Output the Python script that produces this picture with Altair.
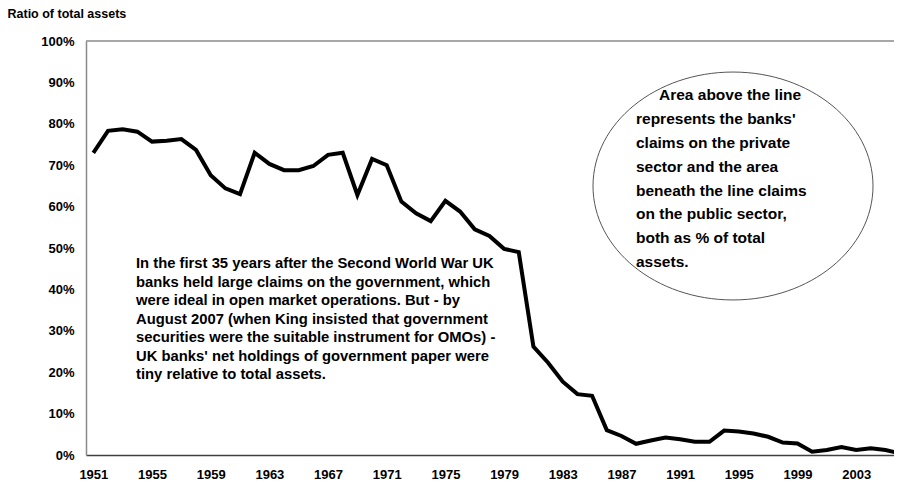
import altair as alt
import pandas as pd

years = list(range(1951, 2007))
ratio = [73.0, 78.3, 78.7, 78.1, 75.7, 75.9, 76.3, 73.7, 67.6, 64.4,
         63.0, 73.0, 70.3, 68.8, 68.8, 69.8, 72.5, 73.0, 62.8, 71.5,
         70.0, 61.2, 58.4, 56.5, 61.4, 58.8, 54.5, 52.9, 49.8, 49.0,
         26.2, 22.3, 17.7, 14.7, 14.3, 6.0, 4.6, 2.7, 3.5, 4.2,
         3.8, 3.2, 3.2, 5.9, 5.7, 5.2, 4.4, 3.0, 2.8, 0.8,
         1.2, 1.9, 1.2, 1.6, 1.2, 0.4]
tick_years = list(range(1951, 2004, 4))
y_ticks = list(range(0, 101, 10))

left_note = [
    "In the first 35 years after the Second World War UK",
    "banks held large claims on the government, which",
    "were ideal in open market operations. But - by",
    "August 2007 (when King insisted that government",
    "securities were the suitable instrument for OMOs) -",
    "UK banks' net holdings of government paper were",
    "tiny relative to total assets.",
]
bubble_first = "Area above the line"
bubble_rest = [
    "represents the banks'",
    "claims on the private",
    "sector and the area",
    "beneath the line claims",
    "on the public sector,",
    "both as % of total",
    "assets.",
]

df = pd.DataFrame({"year": years, "ratio": ratio})
FONT = "Liberation Sans"
W, H = 808, 414

x = alt.X("year:Q",
          scale=alt.Scale(domain=[1950.5, 2005.58], nice=False, zero=False),
          axis=alt.Axis(values=tick_years, format="d", title=None, grid=False,
                        ticks=False, domainColor="#404040", domainWidth=1.5,
                        labelFont=FONT, labelFontWeight="bold", labelFontSize=13,
                        labelColor="black", labelPadding=13, labelFlush=False))
y = alt.Y("ratio:Q",
          scale=alt.Scale(domain=[0, 100], nice=False),
          axis=alt.Axis(values=y_ticks, labelExpr="datum.value + '%'", grid=False,
                        ticks=False, domainColor="#8a8a8a", domainWidth=1.5,
                        labelFont=FONT, labelFontWeight="bold", labelFontSize=13,
                        labelColor="black", labelPadding=12,
                        title="Ratio of total assets", titleAngle=0,
                        titleAlign="left", titleBaseline="middle",
                        titleX=-79, titleY=-28, titleFont=FONT,
                        titleFontSize=12.5, titleFontWeight="bold", titleColor="black"))

line = alt.Chart(df).mark_line(color="black", strokeWidth=4, strokeJoin="miter",
                               clip=True).encode(x=x, y=y)

top_border = alt.Chart(pd.DataFrame({"k": [1]})).mark_rule(
    color="#8a8a8a", strokeWidth=1.5
).encode(x=alt.value(0), x2=alt.value(W), y=alt.value(0))

note1 = alt.Chart(pd.DataFrame({"t": [left_note]})).mark_text(
    align="left", baseline="top", font=FONT, fontWeight="bold", fontSize=14.8,
    lineHeight=18.5, color="black"
).encode(x=alt.value(50), y=alt.value(215), text="t")

ellipse = alt.Chart(pd.DataFrame({"k": [1]})).mark_point(
    shape="M -1,0 A 1,0.814 0 1,1 1,0 A 1,0.814 0 1,1 -1,0 Z",
    size=78400, filled=False, stroke="#555555", strokeWidth=1, opacity=1
).encode(x=alt.value(647), y=alt.value(145))

text_style = dict(align="left", baseline="top", font=FONT, fontWeight="bold",
                  fontSize=15.5, lineHeight=23.9, color="black")

note2a = alt.Chart(pd.DataFrame({"t": [bubble_first]})).mark_text(**text_style).encode(
    x=alt.value(573), y=alt.value(47), text="t")

note2b = alt.Chart(pd.DataFrame({"t": [bubble_rest]})).mark_text(**text_style).encode(
    x=alt.value(550), y=alt.value(70.9), text="t")

chart = alt.layer(line, top_border, ellipse, note1, note2a, note2b).properties(
    width=W, height=H,
    autosize=alt.AutoSizeParams(type="none"),
    padding={"left": 78, "top": 33, "right": 0, "bottom": 25},
).configure_view(strokeWidth=0)

chart.save("out.html", embed_options={"renderer": "svg", "actions": False})
